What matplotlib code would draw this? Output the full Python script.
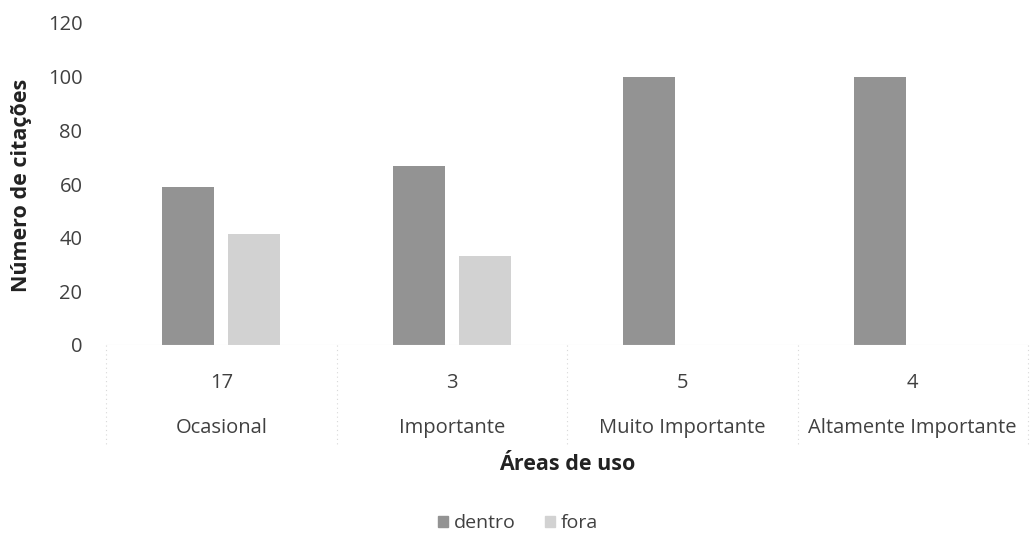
import matplotlib
matplotlib.use("Agg")
import matplotlib.pyplot as plt
import numpy as np
from matplotlib.patches import Patch

plt.rcParams['font.family'] = ['Open Sans', 'DejaVu Sans']

categories = ["Ocasional", "Importante", "Muito Importante", "Altamente Importante"]
counts = ["17", "3", "5", "4"]
dentro = [58.8, 66.7, 100.0, 100.0]
fora = [41.2, 33.3, 0.0, 0.0]
yticks = [0, 20, 40, 60, 80, 100, 120]

fig = plt.figure(figsize=(10.30, 5.42), dpi=100)
ax = fig.add_axes([106/1030, 1 - 345/542, (1028-106)/1030, (345-23)/542])

x = np.arange(len(categories))
w = 0.225
off = 0.143
c_dentro = "#939393"
c_fora = "#d2d2d2"
ax.bar(x - off, dentro, w, color=c_dentro, label="dentro")
ax.bar(x + off, fora, w, color=c_fora, label="fora")

ax.set_xlim(-0.5, len(categories) - 0.5)
ax.set_ylim(0, 120)
ax.set_yticks(yticks)
ax.set_yticklabels([str(t) for t in yticks], fontsize=14.5, color="#404040")
ax.tick_params(axis='y', length=0, pad=17)
ax.set_xticks([])
for s in ax.spines.values():
    s.set_visible(False)
ax.axhline(0, color="#ececec", lw=0.8)

# multi-level category labels
for i in range(len(categories)):
    ax.text(x[i], -38/2.683, counts[i], ha='center', va='center', fontsize=14.5,
            color="#404040", transform=ax.transData, clip_on=False)
    ax.text(x[i], -83/2.683, categories[i], ha='center', va='center', fontsize=14.5,
            color="#404040", transform=ax.transData, clip_on=False)
# separators
for b in np.arange(-0.5, len(categories), 1.0):
    ax.plot([b, b], [0, -100/2.683], color="#d8d8d8", lw=0.8, ls=(0, (1, 3)),
            clip_on=False)

fig.text(567/1030, 1 - 465/542, "Áreas de uso", ha='center', va='center',
         fontsize=15.5, fontweight='bold', color="#222222")
fig.text(22/1030, 1 - 185/542, "Número de citações", ha='center', va='center',
         rotation=90, fontsize=15.5, fontweight='bold', color="#222222")

handles = [Patch(color=c_dentro, label="dentro"), Patch(color=c_fora, label="fora")]
fig.legend(handles=handles, loc='center', bbox_to_anchor=(518/1030, 1 - 523/542),
           ncol=2, frameon=False, fontsize=14, handlelength=0.5, handleheight=0.5,
           handletextpad=0.3, columnspacing=1.5, labelcolor="#404040")

fig.savefig("out.png", dpi=100)
